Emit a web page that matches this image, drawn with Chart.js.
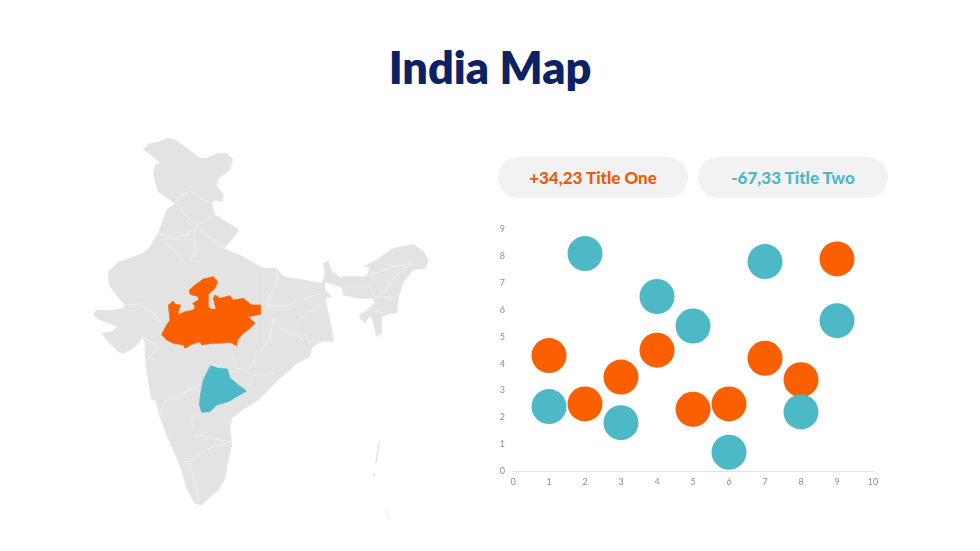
<!DOCTYPE html>
<html>
<head>
<meta charset="utf-8">
<title>India Map</title>
<script src="https://cdn.jsdelivr.net/npm/chart.js@4"></script>
<style>
  html, body { margin: 0; padding: 0; background: #fff; }
  #page { position: relative; width: 980px; height: 551px; overflow: hidden; font-family: Lato, sans-serif; }
  h1 { position: absolute; left: 0; width: 980px; top: 38px; margin: 0; text-align: center; color: #0b2265; font-size: 45px; line-height: 58px; font-weight: 800; }
  .pill { position: absolute; top: 157px; width: 190px; height: 41px; border-radius: 21px; background: #f2f2f2; text-align: center; line-height: 41px; font-size: 17px; font-weight: 900; }
  #map { position: absolute; left: 0; top: 0; }
  #map path { stroke-linejoin: round; stroke-linecap: round; }
  .gris { fill: #e3e3e3; stroke: #e3e3e3; stroke-width: 2; }
  .linde { fill: none; stroke: #f1f1f1; stroke-width: 2.4; }
  #scatter { position: absolute; left: 490px; top: 216px; }
</style>
</head>
<body>
<div id="page">
  <h1>India Map</h1>

  <!-- mapa dibujado a mano: cada grupo usa las coordenadas de su recorte 3x -->
  <svg id="map" width="980" height="551" viewBox="0 0 980 551">
    <!-- centro -->
    <path fill="#e3e3e3" d="M117,263 L108,272 L109,285 L120,300 L125,305 L200,350 L160,380 L260,395 L290,370 L320,340 L320,290 L285,277 L262,267 L240,255 L223,248 L150,250 Z"/>
    <g transform="translate(90,135) scale(0.3333)">
      <path class="gris" d="M160,42 L180,25 L205,22 L230,10 L255,15 L290,40 L330,70 L350,70 L385,55 L410,55 L428,72 L420,105 L385,130 L378,150 L400,180 L395,200 L375,195 L365,205 L375,240 L400,255 L447,285 L420,320 L400,340 L400,390 L80,390 L88,378 L105,385 L150,370 L180,335 L205,295 L230,225 L255,205 L205,170 L190,120 L195,90 L210,85 L190,65 Z"/>
    </g>
    <g transform="translate(260,235) scale(0.3333)">
      <path class="gris" d="M0,100 L50,100 L70,125 L130,135 L185,145 L195,120 L190,85 L205,78 L215,110 L245,130 L250,125 L320,125 L330,95 L310,95 L350,75 L400,40 L460,28 L490,50 L505,75 L495,100 L460,105 L430,140 L415,190 L410,235 L390,235 L365,245 L365,295 L350,305 L340,260 L330,240 L315,265 L300,250 L300,240 L320,225 L345,205 L340,190 L290,190 L250,180 L247,158 L225,150 L195,140 L195,165 L215,185 L195,190 L205,235 L215,280 L220,320 L185,320 L155,335 L150,365 L110,385 L75,405 L0,405 Z"/>
    </g>
    <g transform="translate(90,290) scale(0.3333)">
      <path class="gris" d="M90,0 L105,40 L100,55 L60,62 L20,60 L10,75 L30,90 L70,105 L85,110 L65,125 L35,130 L55,155 L85,185 L100,190 L130,175 L150,155 L155,140 L165,155 L165,175 L170,240 L180,300 L185,330 L360,330 L360,0 Z"/>
    </g>
    <g transform="translate(140,355) scale(0.3333)">
      <path class="gris" d="M15,0 L20,30 L40,110 L60,185 L80,240 L105,295 L125,345 L140,400 L165,445 L185,450 L205,430 L235,405 L255,370 L262,330 L275,270 L270,220 L275,190 L315,160 L355,135 L390,100 L440,40 L450,0 Z"/>
    </g>
    <!-- islas -->
    <g transform="translate(80,130) scale(0.3333)" fill="#e3e3e3">
      <path d="M897,932 L900,935 L890,1000 L885,1000 Z"/>
      <path d="M880,1030 L885,1030 L884,1040 L880,1040 Z"/>
      <path d="M915,1125 L930,1165 L925,1168 Z" opacity="0.6"/>
    </g>
    <!-- lindes de estados -->
    <g transform="translate(90,135) scale(0.3333)" class="linde">
      <path class="linde" d="M255,205 L275,180 L300,168 L330,190 L365,205"/>
      <path class="linde" d="M265,210 L285,240 L320,270 L345,255 L375,240"/>
      <path class="linde" d="M205,295 L250,310 L290,300 L320,275"/>
      <path class="linde" d="M320,275 L350,300 L385,330 L420,345"/>
      <path class="linde" d="M225,320 L250,345 L280,375"/>
      <path class="linde" d="M310,290 L315,350 L300,375 L330,380"/>
    </g>
    <g transform="translate(260,235) scale(0.3333)">
      <path class="linde" d="M45,100 L55,135 L35,170 L20,210"/>
      <path class="linde" d="M20,210 L75,215 L120,195 L185,175"/>
      <path class="linde" d="M40,250 L70,290 L110,295 L130,320"/>
      <path class="linde" d="M110,260 L165,220 L200,195"/>
      <path class="linde" d="M40,250 L30,310 L0,350"/>
      <path class="linde" d="M130,295 L150,320 L215,320"/>
      <path class="linde" d="M250,155 L330,155 L345,185 L330,225 L300,235"/>
      <path class="linde" d="M345,190 L375,170 L400,130 L455,85"/>
      <path class="linde" d="M330,120 L400,95 L455,85"/>
      <path class="linde" d="M345,230 L380,235"/>
      <path class="linde" d="M370,185 L410,190"/>
    </g>
    <g transform="translate(90,290) scale(0.3333)">
      <path class="linde" d="M105,45 L150,42 L185,65 L215,100 L215,145"/>
      <path class="linde" d="M155,140 L205,170 L170,210"/>
    </g>
    <g transform="translate(140,355) scale(0.3333)">
      <path class="linde" d="M180,170 L160,180 L155,205 L170,240 L215,250 L275,260"/>
      <path class="linde" d="M60,185 L75,140 L120,120 L180,90"/>
      <path class="linde" d="M275,260 L220,275 L180,295 L150,320 L120,320"/>
      <path class="linde" d="M145,325 L165,375 L175,440"/>
      <path class="linde" d="M315,110 L325,90 L340,60 L375,60 L400,55"/>
      <path class="linde" d="M280,0 L285,40 L325,45 L345,20 L345,0"/>
    </g>
    <!-- estados resaltados -->
    <g transform="translate(150,265) scale(0.3333)">
      <path fill="#fb6000" stroke="#fb6000" stroke-width="2" d="M35,208 L50,180 L60,165 L55,120 L70,108 L75,118 L92,120 L85,140 L85,150 L105,140 L130,135 L135,125 L128,115 L145,105 L145,95 L120,88 L118,75 L135,60 L160,42 L190,35 L203,50 L195,70 L175,88 L175,125 L185,133 L198,132 L190,100 L195,90 L210,100 L240,92 L250,105 L280,100 L305,120 L332,120 L332,148 L295,155 L315,175 L300,190 L280,205 L262,225 L260,242 L240,232 L210,235 L185,235 L155,240 L150,230 L125,238 L105,250 L100,240 L70,235 L50,225 Z"/>
    </g>
    <g transform="translate(140,355) scale(0.3333)">
      <path fill="#4db8c6" stroke="#4db8c6" stroke-width="2" d="M212,32 L235,40 L262,42 L270,68 L295,90 L320,108 L290,125 L265,140 L230,150 L210,170 L185,172 L178,150 L182,115 L190,75 Z"/>
    </g>
  </svg>

  <div class="pill" style="left:498px;color:#e85d0c">+34,23 Title One</div>
  <div class="pill" style="left:698px;color:#4db8c6">-67,33 Title Two</div>

  <canvas id="scatter" width="400" height="284"></canvas>
</div>

<script>
const xCategorias = [1, 2, 3, 4, 5, 6, 7, 8, 9];
const valoresNaranja = [4.3, 2.5, 3.5, 4.5, 2.3, 2.5, 4.2, 3.4, 7.9];
const valoresAzul = [2.4, 8.1, 1.8, 6.5, 5.4, 0.7, 7.8, 2.2, 5.6];

function puntos(valores) {
    return xCategorias.map((x, i) => ({ x: x, y: valores[i] }));
}

const ctx = document.getElementById('scatter').getContext('2d');
new Chart(ctx, {
    type: 'scatter',
    data: {
        datasets: [
            { label: 'Title One', data: puntos(valoresNaranja), backgroundColor: '#fb6000', borderWidth: 0, pointRadius: 17.5, order: 2, clip: false },
            { label: 'Title Two', data: puntos(valoresAzul), backgroundColor: '#4db8c6', borderWidth: 0, pointRadius: 17.5, order: 1, clip: false }
        ]
    },
    options: {
        responsive: false,
        animation: false,
        layout: { autoPadding: false, padding: { top: 4, right: 17, left: 0, bottom: 0 } },
        plugins: { legend: { display: false }, tooltip: { enabled: false } },
        scales: {
            x: {
                type: 'linear', min: 0, max: 10,
                afterFit: scale => { scale.height = 29; },
                grid: { display: false, drawTicks: false },
                border: { color: '#e2e2e2' },
                ticks: { stepSize: 1, color: '#8f8f8f', font: { family: 'Lato', size: 9 }, maxRotation: 0, padding: 6 }
            },
            y: {
                type: 'linear', min: 0, max: 9,
                afterFit: scale => { scale.width = 23; },
                grid: { display: false, drawTicks: false },
                border: { display: false },
                ticks: { stepSize: 1, color: '#8f8f8f', font: { family: 'Lato', size: 9 }, padding: 8 }
            }
        }
    }
});
</script>
</body>
</html>
